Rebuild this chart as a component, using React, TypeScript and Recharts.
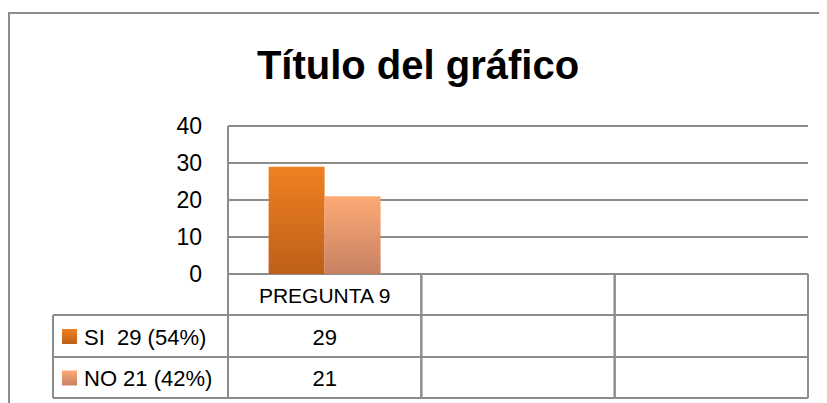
import React from 'react';
import { BarChart, Bar, XAxis, YAxis, CartesianGrid, Customized } from 'recharts';

const chartTitle = 'Título del gráfico';
const categories = ['PREGUNTA 9', '', ''];
const siValues = [29, null, null];
const noValues = [21, null, null];
const seriesLabels = ['SI  29 (54%)', 'NO 21 (42%)'];
const yTicks = [0, 10, 20, 30, 40];

const data = categories.map((name, i) => ({ name, si: siValues[i], no: noValues[i] }));

const FONT = '"Liberation Sans", Arial, sans-serif';
const LINE = '#8c8c8c';

// filas de la tabla de datos (alto de cada una, desde el eje)
const ROW_Y = [0, 41, 83, 124];

const TableTick = (props: any) => {
    const { x, y, payload, index, width, visibleTicksCount } = props;
    const band = width / (visibleTicksCount || categories.length);
    const left = x - band / 2;
    const right = x + band / 2;
    const values = [siValues[index], noValues[index]];
    const grads = ['url(#siGrad)', 'url(#noGrad)'];

    return (
        <g>
            <line x1={left} x2={left} y1={y + ROW_Y[0]} y2={y + ROW_Y[3]} stroke={LINE} strokeWidth={2} />
            <line x1={right} x2={right} y1={y + ROW_Y[0]} y2={y + ROW_Y[3]} stroke={LINE} strokeWidth={2} />
            {ROW_Y.slice(1).map(r => (
                <line key={r} x1={left} x2={right} y1={y + r} y2={y + r} stroke={LINE} strokeWidth={2} />
            ))}
            <text x={x} y={y + 21} textAnchor="middle" dominantBaseline="central" fontSize={21} fontFamily={FONT} fill="#000">
                {payload.value}
            </text>
            {values.map((v, i) => (
                <text key={i} x={x} y={y + (ROW_Y[i + 1] + ROW_Y[i + 2]) / 2 + 1} textAnchor="middle" dominantBaseline="central" fontSize={22} fontFamily={FONT} fill="#000">
                    {v == null ? '' : v}
                </text>
            ))}

            {/* encabezados de fila con la leyenda */}
            {index === 0 && (
                <g>
                    <line x1={45} x2={left} y1={y + ROW_Y[1]} y2={y + ROW_Y[1]} stroke={LINE} strokeWidth={2} />
                    <line x1={45} x2={left} y1={y + ROW_Y[2]} y2={y + ROW_Y[2]} stroke={LINE} strokeWidth={2} />
                    <line x1={45} x2={left} y1={y + ROW_Y[3]} y2={y + ROW_Y[3]} stroke={LINE} strokeWidth={2} />
                    <line x1={45} x2={45} y1={y + ROW_Y[1]} y2={y + ROW_Y[3]} stroke={LINE} strokeWidth={2} />
                    {seriesLabels.map((label, i) => {
                        const cy = y + (ROW_Y[i + 1] + ROW_Y[i + 2]) / 2;
                        return (
                            <g key={label}>
                                <rect x={54} y={cy - 7} width={15} height={15} fill={grads[i]} />
                                <text x={76} y={cy + 1} dominantBaseline="central" fontSize={22} fontFamily={FONT} fill="#000" style={{ whiteSpace: 'pre' }}>
                                    {label}
                                </text>
                            </g>
                        );
                    })}
                </g>
            )}
        </g>
    );
};

const Frame = () => (
    <g>
        <line x1={1} x2={819} y1={5} y2={5} stroke={LINE} strokeWidth={2} />
        <line x1={1} x2={1} y1={4} y2={395} stroke={LINE} strokeWidth={2} />
        <text x={410} y={71} textAnchor="middle" fontSize={40} fontWeight="bold" fontFamily={FONT} fill="#000">
            {chartTitle}
        </text>
    </g>
);

export default function App() {
    return (
        <BarChart
            width={819}
            height={395}
            data={data}
            margin={{ top: 118, right: 19, bottom: 3, left: 160 }}
            barGap={0}
            barCategoryGap="21%"
        >
            <defs>
                <linearGradient id="siGrad" x1="0" y1="0" x2="0" y2="1">
                    <stop offset="0%" stopColor="#EF8122" />
                    <stop offset="100%" stopColor="#BE5F19" />
                </linearGradient>
                <linearGradient id="noGrad" x1="0" y1="0" x2="0" y2="1">
                    <stop offset="0%" stopColor="#FDAA76" />
                    <stop offset="100%" stopColor="#C88163" />
                </linearGradient>
            </defs>
            <Customized component={Frame} />
            <CartesianGrid vertical={false} stroke={LINE} strokeWidth={2} />
            <XAxis
                dataKey="name"
                interval={0}
                height={126}
                axisLine={false}
                tickLine={false}
                tickSize={0}
                tickMargin={0}
                tick={<TableTick />}
            />
            <YAxis
                domain={[0, 40]}
                ticks={yTicks}
                width={60}
                axisLine={{ stroke: LINE, strokeWidth: 2 }}
                tickLine={false}
                tickSize={0}
                tickMargin={26}
                tick={{ fill: '#000', fontSize: 23, fontFamily: FONT }}
            />
            <Bar dataKey="si" fill="url(#siGrad)" isAnimationActive={false} />
            <Bar dataKey="no" fill="url(#noGrad)" isAnimationActive={false} />
        </BarChart>
    );
}
